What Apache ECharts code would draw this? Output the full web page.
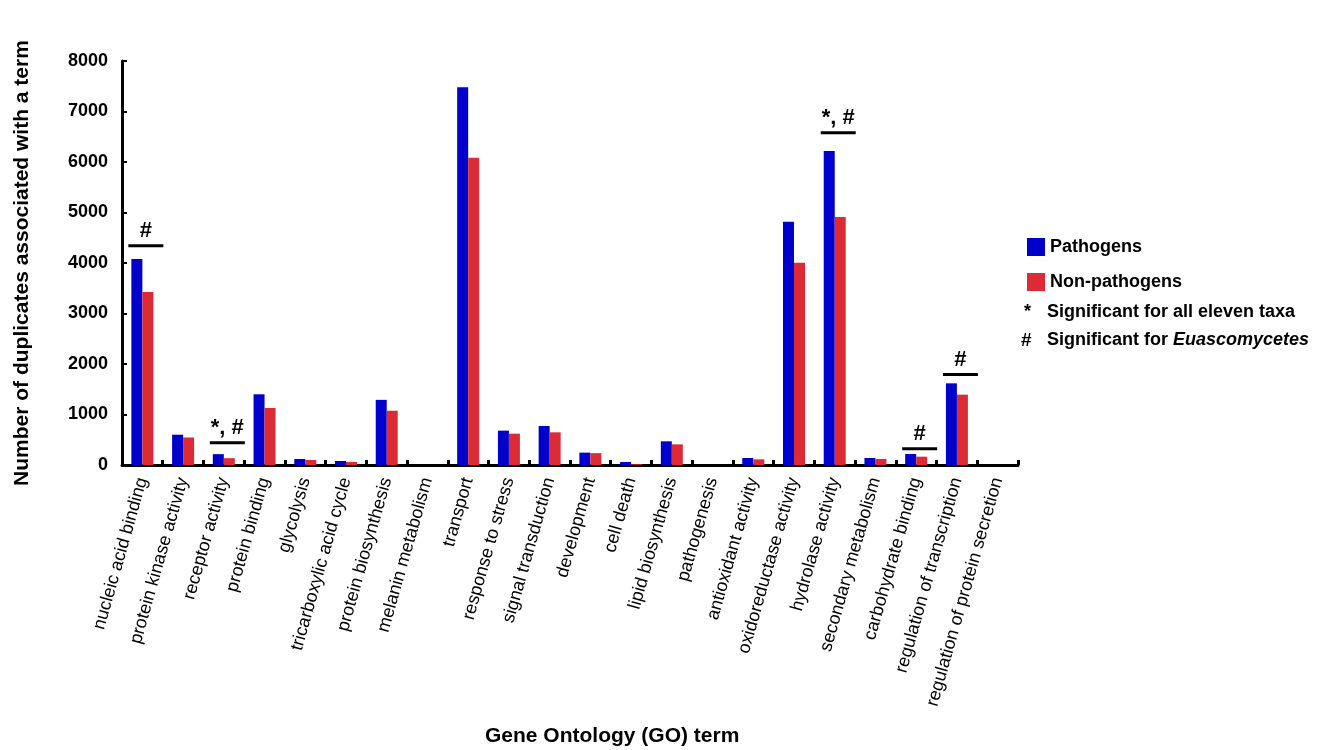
<!DOCTYPE html>
<html>
<head>
<meta charset="utf-8">
<script src="https://cdn.jsdelivr.net/npm/echarts@6/dist/echarts.min.js"></script>
<style>html,body{margin:0;padding:0;background:#fff;}#c{width:1323px;height:750px;}</style>
</head>
<body>
<div id="c"></div>
<script>
const categories = ['nucleic acid binding','protein kinase activity','receptor activity','protein binding','glycolysis','tricarboxylic acid cycle','protein biosynthesis','melanin metabolism','transport','response to stress','signal transduction','development','cell death','lipid biosynthesis','pathogenesis','antioxidant activity','oxidoreductase activity','hydrolase activity','secondary metabolism','carbohydrate binding','regulation of transcription','regulation of protein secretion'];
const pathogens = [4080, 600, 215, 1400, 119, 79, 1290, 0, 7480, 680, 772, 245, 59, 469, 0, 139, 4818, 6220, 139, 218, 1617, 0];
const nonPathogens = [3425, 545, 135, 1129, 99, 59, 1075, 0, 6085, 620, 647, 235, 15, 409, 0, 112, 4006, 4910, 119, 165, 1393, 0];
// significance annotations: [category index, bar level value, label]
const sigCats = [0, 2, 17, 19, 20];
const sigLevels = [4340, 440, 6580, 323, 1790];
const sigLabels = ['#', '*, #', '*, #', '#', '#'];
const yTicks = [0, 1000, 2000, 3000, 4000, 5000, 6000, 7000, 8000];

const FONT = "'Liberation Sans', Arial, sans-serif";
const chart = echarts.init(document.getElementById('c'), null, {renderer: 'canvas'});
const sigData = sigCats.map((c, i) => [c, sigLevels[i], sigLabels[i]]);

chart.setOption({
  animation: false,
  backgroundColor: '#ffffff',
  textStyle: {fontFamily: FONT},
  grid: {left: 122, right: 305, top: 61, bottom: 285, containLabel: false},
  legend: {
    data: ['Pathogens', 'Non-pathogens'],
    orient: 'vertical', left: 1022, top: 233,
    icon: 'rect', itemWidth: 18, itemHeight: 18, itemGap: 17,
    textStyle: {fontFamily: FONT, fontWeight: 'bold', fontSize: 18, color: '#000'}
  },
  xAxis: {
    type: 'category', data: categories,
    axisLine: {lineStyle: {color: '#000', width: 3}},
    axisTick: {show: true, inside: true, length: 5, lineStyle: {color: '#000', width: 3}},
    axisLabel: {rotate: 74, fontSize: 18, color: '#000', margin: 13, fontFamily: FONT, interval: 0}
  },
  yAxis: {
    type: 'value', min: yTicks[0], max: yTicks[yTicks.length - 1], interval: 1000,
    name: 'Number of duplicates associated with a term',
    nameLocation: 'middle', nameGap: 89,
    nameTextStyle: {fontFamily: FONT, fontWeight: 'bold', fontSize: 21, color: '#000'},
    axisLine: {show: true, lineStyle: {color: '#000', width: 3}},
    axisTick: {show: true, inside: true, length: 5, lineStyle: {color: '#000', width: 2}},
    splitLine: {show: false},
    axisLabel: {fontFamily: FONT, fontWeight: 'bold', fontSize: 18, color: '#000', margin: 14,
      formatter: function (v) { return String(v); }}
  },
  graphic: [
    {type: 'text', left: 485, top: 726, style: {text: 'Gene Ontology (GO) term', font: "bold 21px 'Liberation Sans', Arial, sans-serif", fill: '#000'}},
    {type: 'text', left: 1024, top: 303, style: {text: '*', font: "bold 18px 'Liberation Sans', Arial, sans-serif", fill: '#000'}},
    {type: 'text', left: 1047, top: 303, style: {text: 'Significant for all eleven taxa', font: "bold 18px 'Liberation Sans', Arial, sans-serif", fill: '#000'}},
    {type: 'text', left: 1021, top: 331, style: {text: '#', font: "bold 19px 'Liberation Sans', Arial, sans-serif", fill: '#000'}},
    {type: 'text', left: 1047, top: 331, style: {
      text: '{a|Significant for }{b|Euascomycetes}',
      rich: {
        a: {font: "bold 18px 'Liberation Sans', Arial, sans-serif", fill: '#000'},
        b: {font: "italic bold 18px 'Liberation Sans', Arial, sans-serif", fill: '#000'}
      }
    }}
  ],
  series: [
    {name: 'Pathogens', type: 'bar', data: pathogens, barWidth: 11, barGap: '0%', itemStyle: {color: '#0000CD'}},
    {name: 'Non-pathogens', type: 'bar', data: nonPathogens, barWidth: 11, barGap: '0%', itemStyle: {color: '#DC2B35'}},
    {
      type: 'custom', name: 'sig', data: sigData, silent: true, z: 5,
      renderItem: function (params, api) {
        const p = api.coord([api.value(0), api.value(1)]);
        const x1 = p[0] - 14, x2 = p[0] + 21;
        const label = sigLabels[params.dataIndex];
        return {
          type: 'group',
          children: [
            {type: 'line', shape: {x1: x1, y1: p[1], x2: x2, y2: p[1]}, style: {stroke: '#000', lineWidth: 3}},
            {type: 'text', x: (x1 + x2) / 2, y: p[1] - 4, style: {text: label, textAlign: 'center', textVerticalAlign: 'bottom', font: "bold 22px 'Liberation Sans', Arial, sans-serif", fill: '#000'}}
          ]
        };
      }
    }
  ]
});
</script>
</body>
</html>
